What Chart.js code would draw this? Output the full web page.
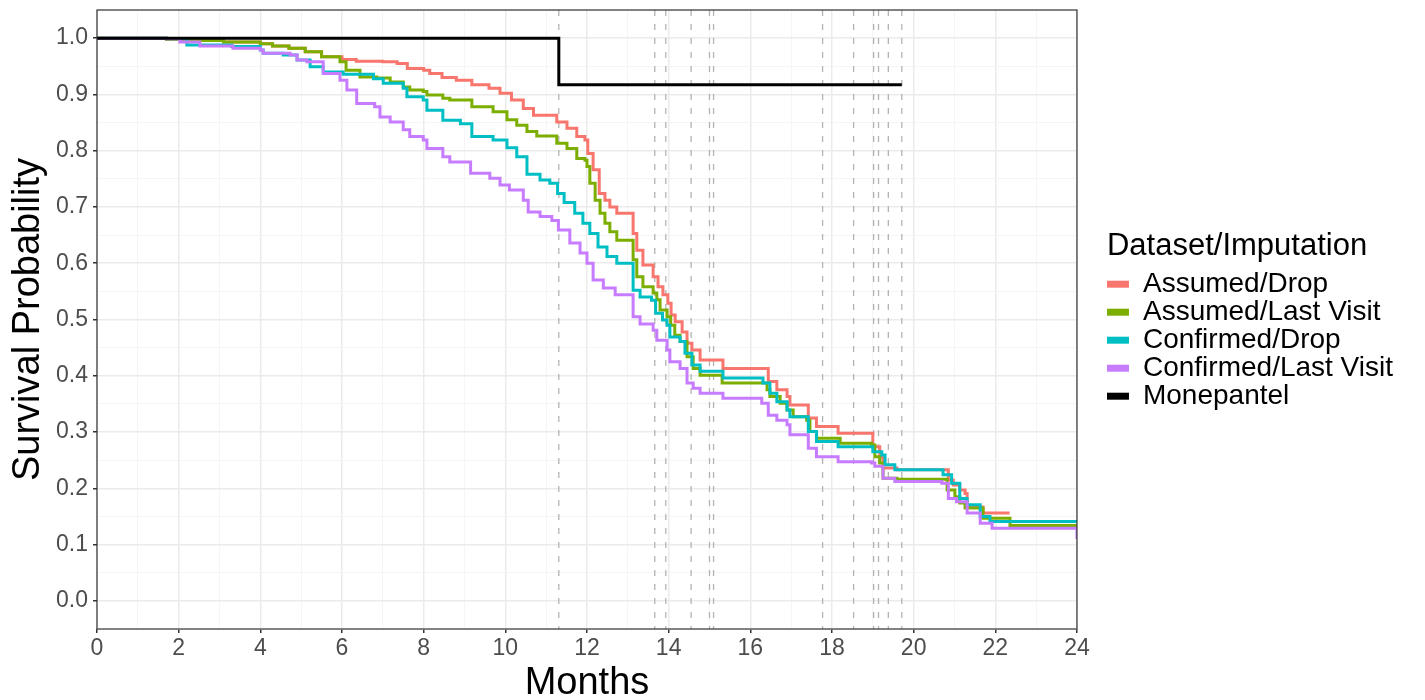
<!DOCTYPE html>
<html>
<head>
<meta charset="utf-8">
<title>Survival curves</title>
<script src="https://cdn.jsdelivr.net/npm/chart.js@4.4.0/dist/chart.umd.min.js"></script>
<style>
  body { margin: 0; background: #fff; }
</style>
</head>
<body>
<canvas id="kmChart" width="1425" height="700"></canvas>
<script>
// Kaplan-Meier curves, [month, survival] at each step
var assumedDrop = [[0,1],[1.7,0.998],[2.3,0.996],[3.1,0.993],[4.0,0.99],[4.3,0.986],[4.7,0.982],[5.1,0.976],[5.5,0.967],
  [6.0,0.962],[6.35,0.959],[7.0,0.958],[7.35,0.955],[7.6,0.946],[8.0,0.943],[8.15,0.937],[8.45,0.930],[8.8,0.925],
  [9.18,0.917],[9.6,0.911],[9.87,0.902],[10.15,0.890],[10.44,0.875],[10.69,0.863],[11.26,0.851],[11.51,0.840],
  [11.75,0.825],[11.95,0.819],[12.02,0.795],[12.15,0.766],[12.3,0.724],[12.44,0.712],[12.56,0.700],[12.73,0.689],
  [13.13,0.653],[13.22,0.623],[13.37,0.597],[13.62,0.576],[13.74,0.558],[13.86,0.544],[13.98,0.529],[14.06,0.508],
  [14.16,0.496],[14.33,0.478],[14.45,0.458],[14.57,0.446],[14.77,0.428],[15.33,0.413],[16.44,0.390],[16.65,0.375],
  [16.9,0.363],[16.97,0.348],[17.42,0.325],[17.62,0.310],[18.15,0.298],[19.0,0.274],[19.17,0.256],[19.25,0.236],
  [19.59,0.233],[20.85,0.215],[20.97,0.206],[21.13,0.197],[21.26,0.191],[21.31,0.167],[21.7,0.156],[22.35,0.156]];

var assumedLastVisit = [[0,1],[1.7,0.998],[2.3,0.996],[3.1,0.993],[4.0,0.99],[4.3,0.986],[4.7,0.982],[5.1,0.976],
  [5.5,0.967],[5.95,0.958],[6.1,0.943],[6.44,0.931],[6.85,0.929],[7.18,0.922],[7.5,0.913],[7.66,0.908],[7.99,0.905],
  [8.08,0.899],[8.47,0.893],[8.64,0.890],[9.18,0.878],[9.7,0.869],[10.04,0.855],[10.28,0.845],[10.53,0.834],
  [10.77,0.826],[11.26,0.813],[11.51,0.804],[11.75,0.786],[11.95,0.783],[12.0,0.772],[12.07,0.742],[12.2,0.712],
  [12.32,0.689],[12.44,0.671],[12.56,0.656],[12.73,0.641],[13.13,0.606],[13.22,0.576],[13.37,0.558],[13.62,0.547],
  [13.71,0.535],[13.79,0.517],[13.96,0.505],[14.05,0.490],[14.15,0.472],[14.28,0.461],[14.45,0.434],[14.6,0.413],
  [14.77,0.401],[15.31,0.387],[16.41,0.375],[16.48,0.363],[16.73,0.351],[16.9,0.339],[17.05,0.327],[17.38,0.321],
  [17.46,0.301],[17.62,0.289],[18.2,0.280],[18.97,0.277],[19.05,0.256],[19.17,0.245],[19.25,0.218],[19.59,0.216],
  [20.82,0.197],[21.01,0.185],[21.13,0.174],[21.26,0.165],[21.7,0.147],[22.36,0.134],[24,0.134]];

var confirmedDrop = [[0,1],[1.7,0.999],[2.2,0.988],[3.3,0.985],[4.0,0.979],[4.07,0.973],[4.56,0.970],[4.9,0.961],
  [5.22,0.949],[5.54,0.940],[6.03,0.936],[6.77,0.928],[7.01,0.920],[7.5,0.911],[7.59,0.896],[7.99,0.890],[8.08,0.872],
  [8.47,0.854],[8.9,0.848],[9.18,0.825],[9.7,0.819],[10.04,0.805],[10.28,0.789],[10.53,0.758],[10.85,0.748],
  [11.09,0.742],[11.28,0.724],[11.44,0.708],[11.7,0.689],[11.9,0.671],[12.07,0.653],[12.27,0.629],[12.49,0.612],
  [12.73,0.600],[13.13,0.552],[13.3,0.540],[13.58,0.534],[13.68,0.511],[13.85,0.499],[13.96,0.490],[14.03,0.469],
  [14.28,0.461],[14.4,0.440],[14.57,0.419],[14.77,0.408],[15.33,0.396],[16.31,0.387],[16.48,0.369],[16.65,0.354],
  [16.9,0.339],[16.97,0.327],[17.42,0.301],[17.62,0.283],[18.15,0.274],[19.0,0.265],[19.22,0.259],[19.3,0.242],
  [19.54,0.233],[20.72,0.224],[20.93,0.209],[21.13,0.182],[21.31,0.171],[21.63,0.150],[21.87,0.141],[24,0.141]];

var confirmedLastVisit = [[0,1],[1.7,0.999],[2.03,0.993],[2.52,0.986],[3.33,0.982],[4.0,0.979],[4.07,0.973],
  [4.73,0.970],[4.9,0.961],[5.14,0.958],[5.54,0.937],[5.95,0.925],[6.12,0.908],[6.36,0.884],[6.8,0.878],[6.93,0.860],
  [7.18,0.851],[7.5,0.837],[7.66,0.825],[7.99,0.819],[8.08,0.804],[8.47,0.789],[8.64,0.780],[9.15,0.760],[9.62,0.751],
  [9.87,0.739],[10.1,0.730],[10.44,0.712],[10.56,0.691],[10.85,0.683],[11.14,0.676],[11.3,0.659],[11.58,0.636],
  [11.83,0.618],[12.0,0.600],[12.15,0.570],[12.4,0.556],[12.69,0.544],[13.13,0.505],[13.3,0.492],[13.62,0.481],
  [13.71,0.463],[13.96,0.446],[14.03,0.425],[14.28,0.413],[14.45,0.387],[14.6,0.378],[14.77,0.369],[15.33,0.360],
  [16.28,0.351],[16.44,0.330],[16.65,0.321],[16.9,0.313],[16.97,0.295],[17.42,0.271],[17.62,0.256],[18.15,0.247],
  [18.97,0.245],[19.05,0.239],[19.25,0.218],[19.54,0.212],[20.69,0.209],[20.85,0.182],[21.05,0.176],[21.31,0.156],
  [21.63,0.138],[21.92,0.129],[24,0.11]];

var monepantel = [[0,1],[11.31,0.917],[19.71,0.917]];

// censoring times drawn as dashed verticals
var censorTimes = [11.31, 13.66, 13.93, 14.55, 15.0, 15.1, 17.77, 18.53, 19.02, 19.14, 19.38, 19.71];

var seriesNames = ['Assumed/Drop', 'Assumed/Last Visit', 'Confirmed/Drop', 'Confirmed/Last Visit', 'Monepantel'];
var seriesData = [assumedDrop, assumedLastVisit, confirmedDrop, confirmedLastVisit, monepantel];
var seriesColors = ['#F8766D', '#7CAE00', '#00BFC4', '#C77CFF', '#000000'];

Chart.defaults.font.family = "'Liberation Sans', Arial, sans-serif";

// first dataset is drawn on top, so build them back to front; legend is reversed
var datasets = [];
for (var i = seriesNames.length - 1; i >= 0; i--) {
    datasets.push({
        label: seriesNames[i],
        data: seriesData[i].map(function (p) { return {x: p[0], y: p[1]}; }),
        borderColor: seriesColors[i],
        backgroundColor: seriesColors[i],
        borderWidth: 3,
        pointRadius: 0,
        stepped: true,
        fill: false
    });
}

var isMajorY = function (v) { return Math.round(v * 100) % 10 === 0; };

var frame = {
    id: 'frame',
    beforeDatasetsDraw: function (chart) {
        var ctx = chart.ctx, area = chart.chartArea;
        ctx.save();
        ctx.strokeStyle = '#b3b3b3';
        ctx.lineWidth = 1.3;
        ctx.setLineDash([6, 8]);
        censorTimes.forEach(function (t) {
            var x = chart.scales.x.getPixelForValue(t);
            ctx.beginPath();
            ctx.moveTo(x, area.top);
            ctx.lineTo(x, area.bottom);
            ctx.stroke();
        });
        ctx.restore();
    },
    afterDatasetsDraw: function (chart) {
        var ctx = chart.ctx, area = chart.chartArea;
        ctx.save();
        ctx.strokeStyle = '#333333';
        ctx.lineWidth = 1.2;
        ctx.strokeRect(area.left, area.top, area.right - area.left, area.bottom - area.top);
        ctx.restore();
    }
};

var ctx = document.getElementById('kmChart').getContext('2d');
var kmChart = new Chart(ctx, {
    type: 'line',
    data: { datasets: datasets },
    plugins: [frame],
    options: {
        responsive: false,
        animation: false,
        layout: { padding: { top: 10, left: 0, right: 22, bottom: 0 } },
        plugins: {
            tooltip: { enabled: false },
            legend: {
                position: 'right',
                align: 'start',
                reverse: true,
                maxWidth: 400,
                title: {
                    display: true,
                    text: 'Dataset/Imputation',
                    position: 'start',
                    color: '#000',
                    font: { size: 31 },
                    padding: { top: 221, bottom: 2 }
                },
                labels: {
                    color: '#000',
                    font: { size: 28 },
                    boxWidth: 22,
                    boxHeight: 7,
                    padding: 0,
                    generateLabels: function (chart) {
                        return Chart.defaults.plugins.legend.labels.generateLabels(chart).map(function (item) {
                            item.lineWidth = 0;
                            return item;
                        });
                    }
                }
            }
        },
        scales: {
            x: {
                type: 'linear',
                min: 0,
                max: 24,
                afterFit: function (scale) {
                    scale.height = 71;
                    scale.paddingLeft = 0;
                    scale.paddingRight = 0;
                },
                border: { display: false },
                grid: {
                    color: function (c) { return c.tick.value % 2 === 0 ? '#ebebeb' : '#f2f2f2'; },
                    lineWidth: function (c) { return c.tick.value % 2 === 0 ? 1.5 : 0.8; },
                    tickColor: function (c) { return c.tick.value % 2 === 0 ? '#333333' : 'rgba(0,0,0,0)'; },
                    tickLength: 4
                },
                ticks: {
                    stepSize: 1,
                    autoSkip: false,
                    maxRotation: 0,
                    padding: 2,
                    color: '#4d4d4d',
                    font: { size: 23 },
                    callback: function (v) { return v % 2 === 0 ? String(v) : ''; }
                },
                title: {
                    display: true,
                    text: 'Months',
                    color: '#000',
                    font: { size: 38, lineHeight: 0.85 },
                    padding: { top: 0, bottom: 0 }
                }
            },
            y: {
                min: -0.05,
                max: 1.05,
                afterFit: function (scale) {
                    scale.width = 97;
                    scale.paddingTop = 0;
                    scale.paddingBottom = 0;
                },
                border: { display: false },
                grid: {
                    color: function (c) { return isMajorY(c.tick.value) ? '#ebebeb' : '#f2f2f2'; },
                    lineWidth: function (c) { return isMajorY(c.tick.value) ? 1.5 : 0.8; },
                    tickColor: function (c) { return isMajorY(c.tick.value) ? '#333333' : 'rgba(0,0,0,0)'; },
                    tickLength: 4
                },
                ticks: {
                    stepSize: 0.05,
                    autoSkip: false,
                    padding: 5,
                    color: '#4d4d4d',
                    font: { size: 23 },
                    callback: function (v) { return isMajorY(v) ? v.toFixed(1) : ''; }
                },
                title: {
                    display: true,
                    text: 'Survival Probability',
                    color: '#000',
                    font: { size: 38, lineHeight: 1 },
                    padding: { top: 10, bottom: 0 }
                }
            },
            spacer: {
                position: 'right',
                display: true,
                afterFit: function (scale) { scale.width = 30; },
                grid: { display: false },
                border: { display: false },
                ticks: { display: false }
            }
        }
    }
});
</script>
</body>
</html>
